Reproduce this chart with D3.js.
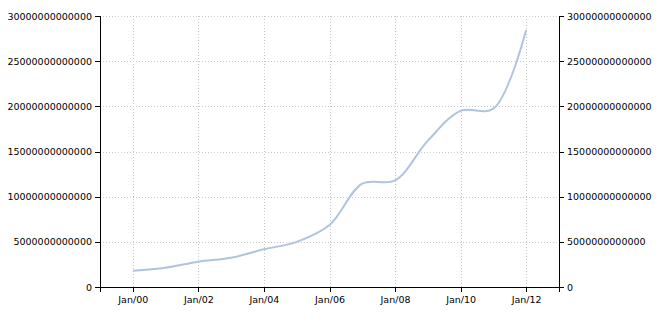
<!DOCTYPE html>
<html>
<head>
<meta charset="utf-8">
<script src="https://cdn.jsdelivr.net/npm/d3@7"></script>
<style>
  body { margin: 0; background: #fff; }
  .axis text { font-family: "DejaVu Sans", Verdana, sans-serif; font-size: 9.5px; fill: #000; }
  .axis path, .axis line { stroke: #000; shape-rendering: crispEdges; }
  .grid line { stroke: #c8c8c8; stroke-dasharray: 1,2; shape-rendering: crispEdges; }
  .grid path { display: none; }
</style>
</head>
<body>
<svg id="chart" width="662" height="324"></svg>
<script>
// yearly values
var years = [2000, 2001, 2002, 2003, 2004, 2005, 2006, 2007, 2008, 2009, 2010, 2011, 2012];
var values = [1.80e12, 2.14e12, 2.80e12, 3.24e12, 4.17e12, 5.00e12, 6.86e12,
              11.45e12, 11.80e12, 16.20e12, 19.50e12, 19.75e12, 28.45e12];
var yTicks = [0, 5e12, 10e12, 15e12, 20e12, 25e12, 30e12];

var margin = { top: 16, right: 103, bottom: 37, left: 100 };
var svg = d3.select("#chart");
var width = 662 - margin.left - margin.right;
var height = 324 - margin.top - margin.bottom;

var data = years.map(function (y, i) {
    return { date: new Date(y, 0, 1), value: values[i] };
});

var x = d3.scaleTime()
    .domain([new Date(1999, 0, 1), new Date(2013, 0, 1)])
    .range([0, width]);
var y = d3.scaleLinear()
    .domain([0, 30e12])
    .range([height, 0]);

var g = svg.append("g").attr("transform", "translate(" + margin.left + "," + margin.top + ")");

var xTickVals = years.filter(function (d) { return d % 2 === 0; })
    .map(function (d) { return new Date(d, 0, 1); });

// grid
g.append("g").attr("class", "grid")
    .call(d3.axisLeft(y).tickValues(yTicks).tickSize(-width).tickFormat(""));
g.append("g").attr("class", "grid")
    .attr("transform", "translate(0," + height + ")")
    .call(d3.axisBottom(x).tickValues(xTickVals).tickSize(-height).tickFormat(""));

// line
var line = d3.line()
    .curve(d3.curveCatmullRom)
    .x(function (d) { return x(d.date); })
    .y(function (d) { return y(d.value); });

g.append("path")
    .datum(data)
    .attr("fill", "none")
    .attr("stroke", "#b0c4de")
    .attr("stroke-width", 2)
    .attr("d", line);

// axes
var fmt = d3.format("d");
g.append("g").attr("class", "axis")
    .call(d3.axisLeft(y).tickValues(yTicks).tickSize(5).tickPadding(3).tickFormat(fmt));
g.append("g").attr("class", "axis")
    .attr("transform", "translate(" + width + ",0)")
    .call(d3.axisRight(y).tickValues(yTicks).tickSize(5).tickPadding(3).tickFormat(fmt));
g.append("g").attr("class", "axis")
    .attr("transform", "translate(0," + height + ")")
    .call(d3.axisBottom(x).tickValues(xTickVals).tickSize(5).tickPadding(4)
        .tickFormat(d3.timeFormat("%b/%y")));

svg.selectAll(".axis path").attr("stroke-width", 1.5);
</script>
</body>
</html>
